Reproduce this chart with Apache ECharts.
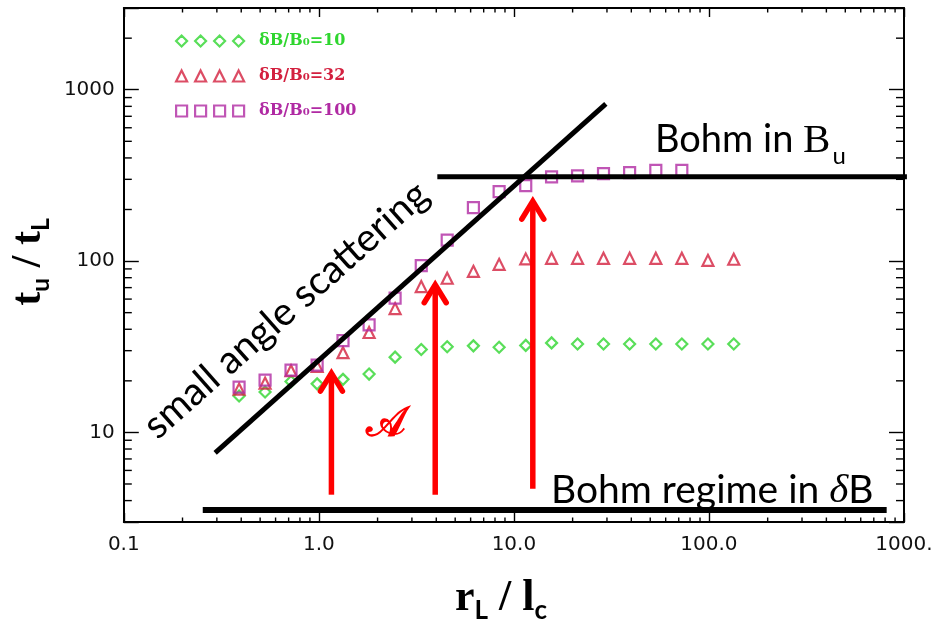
<!DOCTYPE html>
<html>
<head>
<meta charset="utf-8">
<script src="https://cdn.jsdelivr.net/npm/echarts@6/dist/echarts.min.js"></script>
<style>
  html, body { margin: 0; padding: 0; background: #fff; }
  #chart { width: 939px; height: 629px; }
</style>
</head>
<body>
<div id="chart"></div>
<script>
// r_L / l_c sample points shared by the three runs
const rigidity = [0.39, 0.53, 0.72, 0.98, 1.33, 1.81, 2.46, 3.35, 4.55, 6.2,
                  8.4, 11.5, 15.6, 21.2, 28.8, 39.2, 53.4, 72.6, 98.8, 134];

// t_u / t_L for each turbulence level
const ratioDb10 = [16.3, 17.2, 19.8, 19.2, 20.4, 21.9, 27.5, 30.5, 31.6, 32.0,
                   31.4, 32.2, 33.3, 32.8, 32.8, 32.8, 32.8, 32.8, 32.8, 32.8];
const ratioDb32 = [17.9, 19.4, 22.9, 24.3, 29.2, 38.3, 52.8, 71, 79.4, 87.1,
                   95.7, 103, 103.8, 103.8, 103.8, 103.8, 103.8, 103.8, 101, 102.5];
const ratioDb100 = [18.4, 20.2, 23.1, 24.7, 34.3, 42.4, 60.8, 94.2, 132.5, 205,
                    254.5, 275.5, 310, 314, 324, 328, 338, 338];

const seriesNames = ['δB/B₀=10', 'δB/B₀=32', 'δB/B₀=100'];

// reference regimes
const smallAngleLine = [[0.294, 7.6], [29.6, 828]];
const bohmUpstreamLine = [[4.05, 311], [1035, 311]];
const bohmTurbulentLine = [[0.254, 3.52], [815, 3.52]];

// arrows: [r_L/l_c, base, tip]
const arrows = [[1.16, 4.33, 23.4], [3.95, 4.33, 76.8], [12.5, 4.69, 236]];

// axes
const xMin = 0.1, xMax = 1000;
const yMin = 3, yMax = 3000;
const xTickValues = [0.1, 1, 10, 100, 1000];
const xTickLabels = ['0.1', '1.0', '10.0', '100.0', '1000.'];
const yTickValues = [10, 100, 1000];
const yTickLabels = ['10', '100', '1000'];

const green = '#2fd62f';
const red = '#d3203f';
const purple = '#b02aa3';

function minorTicks(lo, hi) {
  const out = [];
  for (let d = Math.pow(10, Math.floor(Math.log10(lo))); d < hi; d *= 10) {
    for (let k = 2; k <= 9; k++) {
      const v = +(k * d).toPrecision(6);
      if (v > lo * 1.0001 && v < hi * 0.9999) out.push(v);
    }
  }
  return out;
}
const xMinor = minorTicks(xMin, xMax);
const yMinor = minorTicks(yMin, yMax);

function lookupLabel(values, labels) {
  return function (v) {
    for (let i = 0; i < values.length; i++) {
      if (Math.abs(v - values[i]) < values[i] * 1e-6) return labels[i];
    }
    return '';
  };
}

function pairs(xs, ys) { return ys.map((y, i) => [xs[i], y]); }

// four-symbol legend keys
const diamondsIcon = 'path://M5.5 0L11 5.5L5.5 11L0 5.5ZM24.5 0L30 5.5L24.5 11L19 5.5ZM43.5 0L49 5.5L43.5 11L38 5.5ZM62.5 0L68 5.5L62.5 11L57 5.5Z';
const trianglesIcon = 'path://M5.5 0L11 11L0 11ZM24.5 0L30 11L19 11ZM43.5 0L49 11L38 11ZM62.5 0L68 11L57 11Z';
const squaresIcon = 'path://M0 0H11V11H0ZM19 0H30V11H19ZM38 0H49V11H38ZM57 0H68V11H57Z';

const hollow = c => ({ color: 'rgba(0,0,0,0)', borderColor: c, borderWidth: 2.2 });

const axisLineStyle = { show: true, onZero: false, lineStyle: { color: '#000', width: 2 } };
const majorTickX = { inside: true, length: 9, lineStyle: { color: '#000', width: 1.4 } };
const majorTickY = { inside: true, length: 15, lineStyle: { color: '#000', width: 1.4 } };
const minorTickLenX = 4.5, minorTickLenY = 8;

const chart = echarts.init(document.getElementById('chart'), null, { renderer: 'canvas' });

function tickStyle() { return { stroke: '#000', lineWidth: 1.4, fill: null }; }

const option = {
  animation: false,
  backgroundColor: '#fff',
  grid: { left: 122, top: 8, width: 782, height: 522 },
  legend: {
    orient: 'vertical', left: 175, top: 31, padding: 0,
    itemWidth: 68, itemHeight: 11, itemGap: 15, selectedMode: false,
    textStyle: { fontFamily: 'DejaVu Serif', fontWeight: 'bold', fontSize: 16, lineHeight: 20, padding: [0, 0, 0, 10] },
    data: [
      { name: seriesNames[0], icon: diamondsIcon, itemStyle: hollow(green), textStyle: { color: green } },
      { name: seriesNames[1], icon: trianglesIcon, itemStyle: hollow(red), textStyle: { color: red } },
      { name: seriesNames[2], icon: squaresIcon, itemStyle: hollow(purple), textStyle: { color: purple } }
    ]
  },
  xAxis: [{
    type: 'log', logBase: 10, min: xMin, max: xMax, position: 'bottom',
    axisLine: axisLineStyle, axisTick: majorTickX,
    splitLine: { show: false },
    axisLabel: { margin: 13, color: '#111', fontFamily: 'DejaVu Sans', fontSize: 20,
                 formatter: lookupLabel(xTickValues, xTickLabels) },
    name: '{m|r}{s|L}{m| / l}{s|c}',
    nameLocation: 'middle', nameGap: 55,
    nameTextStyle: {
      padding: [0, 26, 0, 0],
      rich: {
        m: { fontFamily: 'Liberation Serif', fontWeight: 'bold', fontSize: 44, lineHeight: 44, verticalAlign: 'top', color: '#000' },
        s: { fontFamily: 'Lato', fontWeight: 'bold', fontSize: 26, lineHeight: 26, verticalAlign: 'top', padding: [21, 0, 0, 0], color: '#000' }
      }
    }
  }, {
    type: 'log', logBase: 10, min: xMin, max: xMax, position: 'top',
    axisLine: axisLineStyle, axisTick: majorTickX,
    splitLine: { show: false },
    axisLabel: { show: false }
  }],
  yAxis: [{
    type: 'log', logBase: 10, min: yMin, max: yMax, position: 'left',
    axisLine: axisLineStyle, axisTick: majorTickY,
    splitLine: { show: false },
    axisLabel: { margin: 9, color: '#111', fontFamily: 'DejaVu Sans', fontSize: 20, padding: [8, 0, 0, 0],
                 formatter: lookupLabel(yTickValues, yTickLabels) },
    name: '{m|t}{s|u}{m| / t}{s|L}',
    nameLocation: 'middle', nameGap: 51, nameRotate: 90,
    nameTextStyle: {
      padding: [0, 0, 0, 6],
      rich: {
        m: { fontFamily: 'Liberation Serif', fontWeight: 'bold', fontSize: 42, lineHeight: 42, verticalAlign: 'top', color: '#000' },
        s: { fontFamily: 'Lato', fontWeight: 'bold', fontSize: 25, lineHeight: 25, verticalAlign: 'top', padding: [20, 0, 0, 0], color: '#000' }
      }
    }
  }, {
    type: 'log', logBase: 10, min: yMin, max: yMax, position: 'right',
    axisLine: axisLineStyle, axisTick: majorTickY,
    splitLine: { show: false },
    axisLabel: { show: false }
  }],
  series: [
    {
      name: 'x minor ticks', type: 'custom', silent: true, clip: false, z: 5,
      encode: { x: 0, y: 1 },
      data: xMinor.map(v => [v, yMin]),
      renderItem: function (params, api) {
        const v = api.value(0);
        const bottom = api.coord([v, yMin]);
        const top = api.coord([v, yMax]);
        return { type: 'group', children: [
          { type: 'line', shape: { x1: bottom[0], y1: bottom[1], x2: bottom[0], y2: bottom[1] - minorTickLenX }, style: tickStyle() },
          { type: 'line', shape: { x1: top[0], y1: top[1], x2: top[0], y2: top[1] + minorTickLenX }, style: tickStyle() }
        ] };
      }
    },
    {
      name: 'y minor ticks', type: 'custom', silent: true, clip: false, z: 5,
      encode: { x: 0, y: 1 },
      data: yMinor.map(v => [xMin, v]),
      renderItem: function (params, api) {
        const v = api.value(1);
        const left = api.coord([xMin, v]);
        const right = api.coord([xMax, v]);
        return { type: 'group', children: [
          { type: 'line', shape: { x1: left[0], y1: left[1], x2: left[0] + minorTickLenY, y2: left[1] }, style: tickStyle() },
          { type: 'line', shape: { x1: right[0], y1: right[1], x2: right[0] - minorTickLenY, y2: right[1] }, style: tickStyle() }
        ] };
      }
    },
    {
      name: seriesNames[0], type: 'scatter', symbol: 'diamond', symbolSize: 11,
      itemStyle: hollow(green), data: pairs(rigidity, ratioDb10), z: 3
    },
    {
      name: seriesNames[1], type: 'scatter', symbol: 'triangle', symbolSize: 11,
      itemStyle: hollow(red), data: pairs(rigidity, ratioDb32), z: 3
    },
    {
      name: seriesNames[2], type: 'scatter', symbol: 'rect', symbolSize: 11,
      itemStyle: hollow(purple), data: pairs(rigidity, ratioDb100), z: 3
    },
    {
      name: 'small angle scattering', type: 'line', data: smallAngleLine, symbol: 'none',
      clip: false, silent: true, z: 4, lineStyle: { color: '#000', width: 5 }
    },
    {
      name: 'Bohm in Bu', type: 'line', data: bohmUpstreamLine, symbol: 'none',
      clip: false, silent: true, z: 4, lineStyle: { color: '#000', width: 5 }
    },
    {
      name: 'Bohm regime in dB', type: 'line', data: bohmTurbulentLine, symbol: 'none',
      clip: false, silent: true, z: 4, lineStyle: { color: '#000', width: 6 }
    },
    {
      name: 'arrows', type: 'custom', silent: true, clip: false, z: 6,
      data: arrows,
      encode: { x: 0, y: [1, 2] },
      renderItem: function (params, api) {
        const base = api.coord([api.value(0), api.value(1)]);
        const tip = api.coord([api.value(0), api.value(2)]);
        return { type: 'group', children: [
          { type: 'line', shape: { x1: base[0], y1: base[1], x2: tip[0], y2: tip[1] + 4 },
            style: { stroke: '#ff0000', lineWidth: 5.5, fill: null, lineCap: 'butt' } },
          { type: 'polyline', shape: { points: [[tip[0] - 11, tip[1] + 22], [tip[0], tip[1] + 4], [tip[0] + 11, tip[1] + 22]] },
            style: { stroke: '#ff0000', lineWidth: 5.5, fill: null, lineJoin: 'miter', lineCap: 'round' } }
        ] };
      }
    }
  ],
  graphic: [
    {
      type: 'text', x: 286, y: 310, rotation: 41.5 * Math.PI / 180, z: 10,
      style: { text: 'small angle scattering', font: '39px Lato', fill: '#000', align: 'center', verticalAlign: 'middle' }
    },
    {
      type: 'text', x: 655, y: 121, z: 10,
      style: {
        text: '{a|Bohm in }{b|B}{u|u}', fill: '#000',
        rich: {
          a: { fontFamily: 'Lato', fontSize: 38, lineHeight: 42, verticalAlign: 'top', fill: '#000' },
          b: { fontFamily: 'Liberation Serif', fontSize: 41, lineHeight: 42, verticalAlign: 'top', fill: '#000' },
          u: { fontFamily: 'Lato', fontSize: 24, lineHeight: 24, verticalAlign: 'top', padding: [23, 0, 0, 2], fill: '#000' }
        }
      }
    },
    {
      type: 'text', x: 551, y: 471, z: 10,
      style: {
        text: '{a|Bohm regime in }{d|δ}{a|B}', fill: '#000',
        rich: {
          a: { fontFamily: 'Lato', fontSize: 39, lineHeight: 40, verticalAlign: 'top', fill: '#000' },
          d: { fontFamily: 'Liberation Serif', fontStyle: 'italic', fontSize: 41, lineHeight: 40, verticalAlign: 'top', fill: '#000' }
        }
      }
    },
    {
      type: 'text', x: 386, y: 425, z: 10,
      style: { text: '𝒜', font: 'bold 42px DejaVu Serif', fill: '#ff0000', align: 'center', verticalAlign: 'middle' }
    }
  ]
};

chart.setOption(option);
</script>
</body>
</html>
